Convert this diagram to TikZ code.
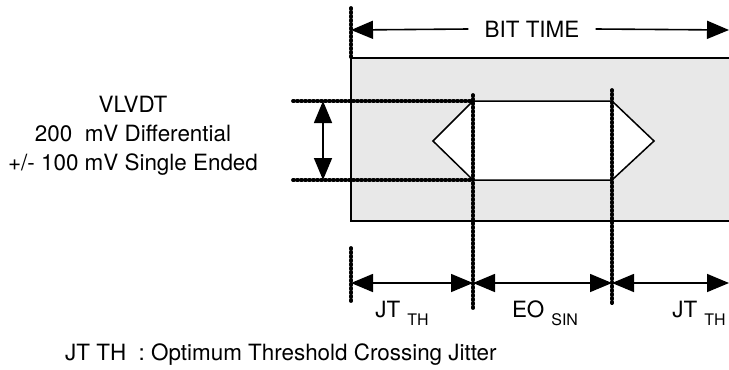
\documentclass[tikz,border=0pt]{standalone}
\usepackage{fontspec}
\setmainfont{TeX Gyre Heros}
\usetikzlibrary{arrows.meta}
\begin{document}
\begin{tikzpicture}[x=1bp,y=-1bp,
    beads/.style={line width=1.4bp, postaction={draw, line width=3.8bp, dash pattern=on 1bp off 3bp, line cap=round}},
    dim/.style={{Triangle[length=22bp,width=18bp]}-{Triangle[length=22bp,width=18bp]}, line width=1.6bp},
    half/.style={-{Triangle[length=22bp,width=18bp]}, line width=1.6bp},
    lbl/.style={font=\fontsize{22.5}{29}\selectfont, inner sep=0pt},
    eyebox/.style={draw=black, line width=1.5bp, fill=white},
  ]
  \useasboundingbox (0,0) rectangle (729,369);
  \clip (0,0) rectangle (729,369);
  % bit cell
  \draw[line width=1.5bp, fill=black!9] (351,58) rectangle (740,221);
  \draw[eyebox] (473,101) -- (612,101) -- (654,141) -- (612,180) -- (473,180) -- (433,141) -- cycle;
  % edges of the bit and of the eye
  \coordinate (b0t) at (351,8);   \coordinate (b0b) at (351,58);
  \coordinate (b1t) at (351,248); \coordinate (b1b) at (351,302);
  \coordinate (e0t) at (473,95);  \coordinate (e0b) at (473,308);
  \coordinate (e1t) at (612,90);  \coordinate (e1b) at (612,305);
  \coordinate (hu0) at (293,101); \coordinate (hu1) at (473,101);
  \coordinate (hl0) at (293,180); \coordinate (hl1) at (473,180);
  \draw[beads] (b0t) -- (b0b);
  \draw[beads] (b1t) -- (b1b);
  \draw[beads] (e0t) -- (e0b);
  \draw[beads] (e1t) -- (e1b);
  \draw[beads] (hu0) -- (hu1);
  \draw[beads] (hl0) -- (hl1);
  % bit time
  \coordinate (btl) at (351,30);
  \coordinate (btr) at (729,30);
  \node[lbl, inner xsep=16bp] (bit) at (532,29) {BIT TIME};
  \draw[half] (bit.west) -- (btl);
  \draw[half] (bit.east) -- (btr);
  % amplitude
  \coordinate (vu) at (323,101);
  \coordinate (vl) at (323,180);
  \draw[dim] (vu) -- (vl);
  \node[lbl, align=center] (amp) at (133,136) {VLVDT\\200~ mV Differential\\+/- 100 mV Single Ended};
  % jitter and eye opening
  \coordinate (j0) at (351,283);
  \coordinate (j1) at (473,283);
  \coordinate (j2) at (612,283);
  \coordinate (j3) at (729,283);
  \draw[dim] (j0) -- (j1);
  \draw[dim] (j1) -- (j2);
  \draw[dim] (j2) -- (j3);
  \node[lbl, anchor=base] (jtl) at (402,317) {JT\hspace{7bp}\raisebox{-8bp}{\fontsize{16}{16}\selectfont TH}};
  \node[lbl, anchor=base] (eo)  at (545,317) {EO\hspace{7bp}\raisebox{-8bp}{\fontsize{16}{16}\selectfont SIN}};
  \node[lbl, anchor=base] (jtr) at (699,317) {JT\hspace{7bp}\raisebox{-8bp}{\fontsize{16}{16}\selectfont TH}};
  \node[lbl, anchor=base west] (note) at (65,360) {JT TH~ : Optimum Threshold Crossing Jitter};
\end{tikzpicture}
\end{document}
